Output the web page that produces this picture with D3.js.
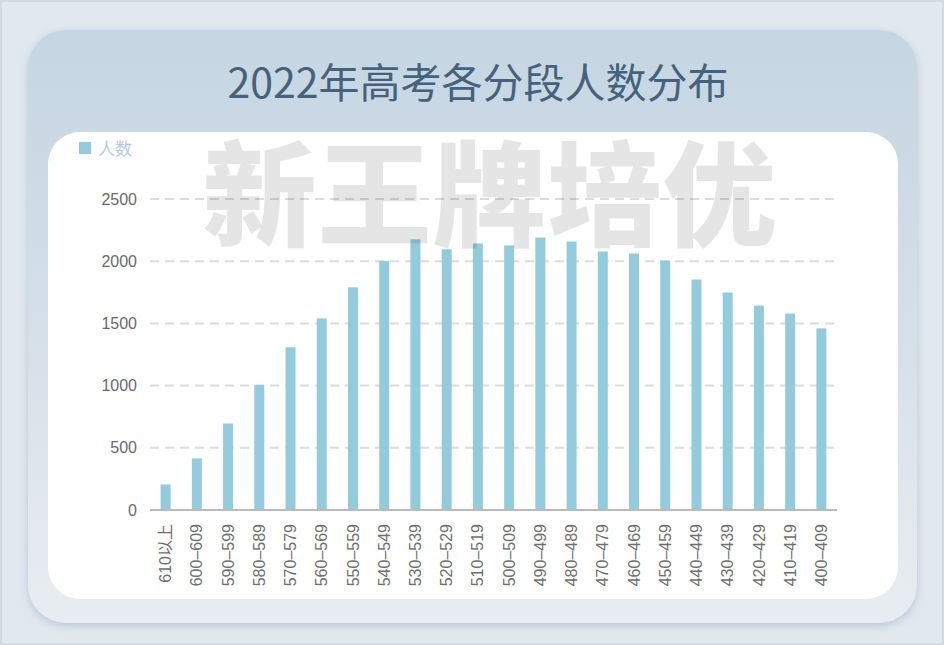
<!DOCTYPE html>
<html><head><meta charset="utf-8">
<script src="https://cdn.jsdelivr.net/npm/d3@7"></script>
<style>
html,body{margin:0;padding:0;background:#e2e9f0;}
svg{display:block;font-family:"Noto Sans CJK SC","Liberation Sans",sans-serif;}
</style></head>
<body>
<script>
const categories = ["610以上","600–609","590–599","580–589","570–579","560–569","550–559","540–549","530–539","520–529","510–519","500–509","490–499","480–489","470–479","460–469","450–459","440–449","430–439","420–429","410–419","400–409"];
const values = [205,415,695,1005,1308,1540,1790,2003,2176,2096,2143,2127,2190,2158,2078,2062,2005,1853,1748,1643,1579,1460];
const yTicks = [0,500,1000,1500,2000,2500];
const title = "2022年高考各分段人数分布";
const seriesName = "人数";
const watermark = "新王牌培优";

const W = 944, H = 645;
const svg = d3.select("body").append("svg").attr("width", W).attr("height", H);
const defs = svg.append("defs");
const g1 = defs.append("linearGradient").attr("id","cardGrad").attr("x1",0).attr("y1",0).attr("x2",0).attr("y2",1);
g1.append("stop").attr("offset","0%").attr("stop-color","#c5d6e2");
g1.append("stop").attr("offset","45%").attr("stop-color","#d3dee8");
g1.append("stop").attr("offset","100%").attr("stop-color","#e9edf1");
const f = defs.append("filter").attr("id","shadow").attr("x","-10%").attr("y","-10%").attr("width","120%").attr("height","120%");
f.append("feDropShadow").attr("dx",0).attr("dy",3).attr("stdDeviation",5).attr("flood-color","#8ea2b5").attr("flood-opacity",0.45);

// page border
svg.append("rect").attr("x",1).attr("y",1).attr("width",W-2).attr("height",H-2)
  .attr("fill","#e1e8f0").attr("stroke","#d2d9e0").attr("stroke-width",2);

// card
svg.append("rect").attr("x",28).attr("y",30).attr("width",889).attr("height",593)
  .attr("rx",38).attr("fill","url(#cardGrad)").attr("filter","url(#shadow)");

// white panel
svg.append("rect").attr("x",48).attr("y",132).attr("width",850).attr("height",467)
  .attr("rx",32).attr("fill","#ffffff");

// title
svg.append("text").attr("x",478).attr("y",98).attr("text-anchor","middle")
  .attr("font-size",41).attr("fill","#45627c").text(title);

const x = d3.scaleBand().domain(categories).range([150,837]).paddingInner(0.68).paddingOuter(0.34);
const y = d3.scaleLinear().domain([0,2500]).range([510,199]);

// gridlines
svg.append("g").selectAll("line").data(yTicks.filter(d=>d>0)).join("line")
  .attr("x1",150).attr("x2",837).attr("y1",d=>y(d)).attr("y2",d=>y(d))
  .attr("stroke","#dcdcdc").attr("stroke-width",2).attr("stroke-dasharray","9,6");

// y labels
svg.append("g").selectAll("text").data(yTicks).join("text")
  .attr("x",137).attr("y",d=>y(d)).attr("dy","0.35em").attr("text-anchor","end")
  .attr("font-family","'Liberation Sans',Arial,sans-serif")
  .attr("font-size",16).attr("fill","#6a6a6a").text(d=>d);

// bars
svg.append("g").selectAll("rect").data(values).join("rect")
  .attr("x",(d,i)=>x(categories[i])).attr("width",x.bandwidth())
  .attr("y",d=>y(d)).attr("height",d=>y(0)-y(d)).attr("fill","#94cbdc");

// axis line
svg.append("line").attr("x1",150).attr("x2",837).attr("y1",510).attr("y2",510)
  .attr("stroke","#bababa").attr("stroke-width",2);

// x labels
svg.append("g").selectAll("text").data(categories).join("text")
  .attr("transform",d=>`translate(${x(d)+x.bandwidth()/2},524) rotate(-90)`)
  .attr("text-anchor","end").attr("dy","0.35em")
  .attr("font-family","'Liberation Sans','Noto Sans CJK SC',sans-serif")
  .attr("font-size",16).attr("fill","#6f6f6f").text(d=>d);

// legend
svg.append("rect").attr("x",79).attr("y",142).attr("width",12).attr("height",12).attr("fill","#94cbdc");
svg.append("text").attr("x",98).attr("y",155).attr("font-size",17).attr("fill","#b7c9e2").text(seriesName);

// watermark
svg.append("text").attr("x",490).attr("y",237).attr("text-anchor","middle")
  .attr("font-size",114).attr("font-weight",900).attr("letter-spacing",1)
  .attr("fill","rgba(0,0,0,0.1)").text(watermark);
</script>
</body></html>
